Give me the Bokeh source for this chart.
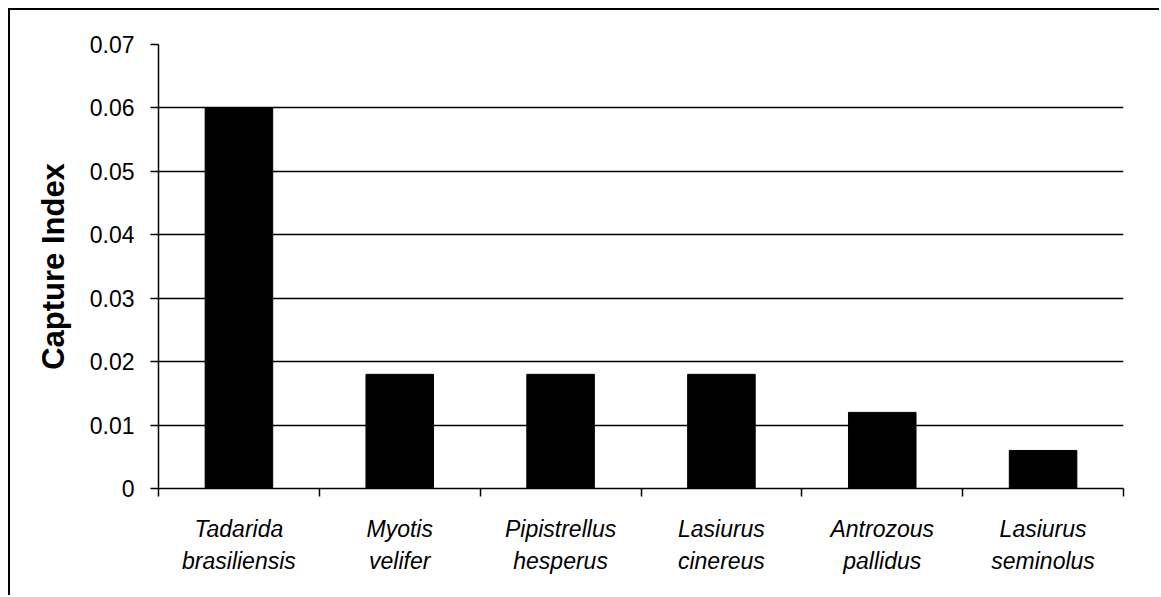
from bokeh.plotting import figure
from bokeh.models import FixedTicker, Range1d, ColumnDataSource
from bokeh.embed import file_html
from bokeh.resources import INLINE

species = ["Tadarida\nbrasiliensis", "Myotis\nvelifer", "Pipistrellus\nhesperus",
           "Lasiurus\ncinereus", "Antrozous\npallidus", "Lasiurus\nseminolus"]
capture_index = [0.060, 0.018, 0.018, 0.018, 0.012, 0.006]
y_ticks = [0, 0.01, 0.02, 0.03, 0.04, 0.05, 0.06, 0.07]
y_tick_labels = ["0", "0.01", "0.02", "0.03", "0.04", "0.05", "0.06", "0.07"]

n = len(species)
centers = [i + 0.5 for i in range(n)]
src = ColumnDataSource(dict(x=centers, top=capture_index))

FONT = "Liberation Sans"

p = figure(width=1151, height=587, output_backend="svg", toolbar_location=None,
           x_range=Range1d(0, n), y_range=Range1d(0, 0.07),
           min_border_left=148, min_border_right=38, min_border_top=34, min_border_bottom=109)
p.styles = {"border-left": "2px solid #000", "border-top": "2px solid #000",
            "margin-left": "8px", "margin-top": "8px"}
p.outline_line_color = None
p.background_fill_color = "white"
p.border_fill_color = "white"

p.vbar(x="x", top="top", bottom=0, width=0.42, source=src, fill_color="black", line_color="black")

# y axis
yax = p.yaxis[0]
yax.ticker = FixedTicker(ticks=y_ticks)
yax.major_label_overrides = {t: l for t, l in zip(y_ticks, y_tick_labels)}
yax.major_label_text_font = FONT
yax.major_label_text_font_size = "23px"
yax.major_label_text_color = "black"
yax.major_tick_in = 0
yax.major_tick_out = 8
yax.major_tick_line_width = 1.5
yax.major_tick_line_color = "black"
yax.minor_tick_line_color = None
yax.axis_line_width = 1.5
yax.axis_line_color = "black"
yax.major_label_standoff = 16
yax.axis_label = "Capture Index"
yax.axis_label_text_font = FONT
yax.axis_label_text_font_style = "bold"
yax.axis_label_text_font_size = "31px"
yax.axis_label_text_color = "black"
yax.axis_label_standoff = 16

# x axis
xax = p.xaxis[0]
xax.ticker = FixedTicker(ticks=centers, minor_ticks=list(range(n + 1)))
xax.major_label_overrides = {c: s for c, s in zip(centers, species)}
xax.major_label_text_font = FONT
xax.major_label_text_font_style = "italic"
xax.major_label_text_font_size = "23px"
xax.major_label_text_color = "black"
xax.major_label_text_line_height = 1.25
xax.major_tick_line_color = None
xax.major_tick_in = 0
xax.major_tick_out = 0
xax.minor_tick_in = 0
xax.minor_tick_out = 8
xax.minor_tick_line_color = "black"
xax.minor_tick_line_width = 1.5
xax.axis_line_color = "black"
xax.axis_line_width = 1.5
xax.major_label_standoff = 19

p.xgrid.grid_line_color = None
p.ygrid.ticker = FixedTicker(ticks=y_ticks)
p.ygrid.grid_line_color = "black"
p.ygrid.grid_line_width = 1.5

open("out.html", "w").write(file_html(p, INLINE))
